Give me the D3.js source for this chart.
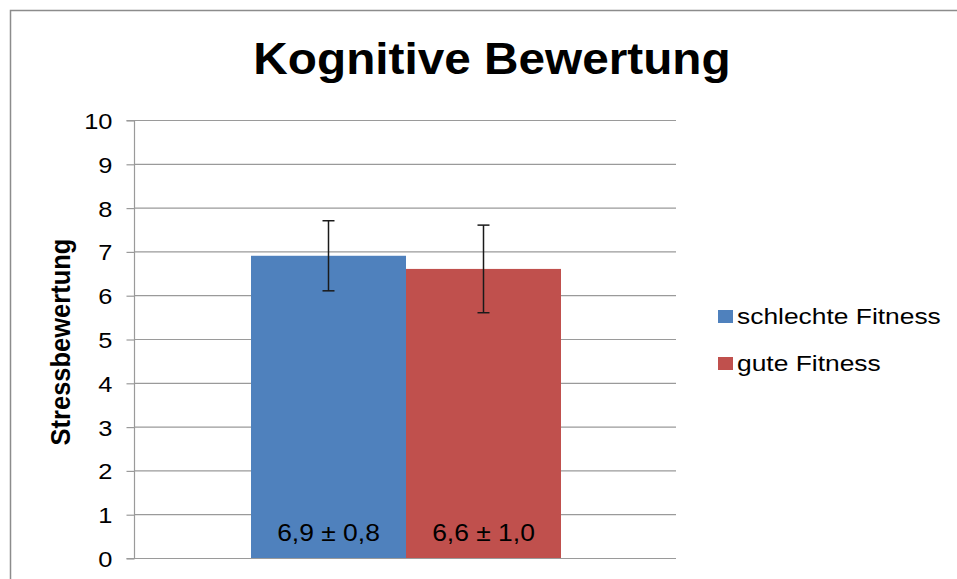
<!DOCTYPE html>
<html>
<head>
<meta charset="utf-8">
<script src="https://cdn.jsdelivr.net/npm/d3@7"></script>
<style>
  html, body { margin: 0; padding: 0; background: #fff; }
  svg { display: block; font-family: "Liberation Sans", Arial, sans-serif; }
</style>
</head>
<body>
<svg id="chart" width="957" height="579"></svg>
<script>
// Chart data
const seriesNames = ["schlechte Fitness", "gute Fitness"];
const seriesMeans = [6.9, 6.6];
const seriesSD = [0.8, 1.0];
const seriesLabels = ["6,9 ± 0,8", "6,6 ± 1,0"];
const seriesColors = ["#4f81bd", "#c0504d"];
const yTicks = [0, 1, 2, 3, 4, 5, 6, 7, 8, 9, 10];

const svg = d3.select("#chart");

// text drawn at (x, y) with a slightly wider glyph shape
function wideText(parent, x, y, sx, str) {
  return parent.append("text")
    .attr("transform", `translate(${x},${y}) scale(${sx},1)`)
    .attr("fill", "#000")
    .text(str);
}

// outer chart frame
svg.append("rect")
  .attr("x", 10.5).attr("y", 10.5)
  .attr("width", 980).attr("height", 600)
  .attr("fill", "none").attr("stroke", "#8c8c8c").attr("stroke-width", 1.5);

const plot = { left: 134.5, right: 676, top: 120, bottom: 558 };

const y = d3.scaleLinear().domain([0, 10]).range([plot.bottom, plot.top]);
const x = d3.scaleBand().domain(seriesNames).range([251, 561]).paddingInner(0).paddingOuter(0);

// horizontal gridlines
svg.append("g").selectAll("line").data(yTicks).join("line")
  .attr("x1", plot.left).attr("x2", plot.right)
  .attr("y1", d => y(d) + 0.5).attr("y2", d => y(d) + 0.5)
  .attr("stroke", "#9a9a9a").attr("stroke-width", 1.2);

// y axis
const tickLen = 8;
const yAxis = d3.axisLeft(y).tickValues(yTicks).tickSize(tickLen).tickFormat(d3.format("d"));
const gy = svg.append("g").attr("transform", `translate(${plot.left},0.5)`).call(yAxis);
gy.select(".domain").attr("stroke", "#9a9a9a").attr("stroke-width", 1.2)
  .attr("d", `M-${tickLen},${plot.top}H0V${plot.bottom}H-${tickLen}`);
gy.selectAll(".tick line").attr("stroke", "#9a9a9a").attr("stroke-width", 1.2);
gy.selectAll(".tick text")
  .attr("x", null).attr("dy", null)
  .attr("transform", "translate(-22,8) scale(1.14,1)")
  .attr("font-size", 22.3).attr("fill", "#000")
  .attr("font-family", "Liberation Sans, Arial, sans-serif");

// bars
svg.append("g").selectAll("rect").data(seriesNames).join("rect")
  .attr("x", d => x(d)).attr("width", x.bandwidth())
  .attr("y", (d, i) => y(seriesMeans[i]))
  .attr("height", (d, i) => y(0) - y(seriesMeans[i]))
  .attr("fill", (d, i) => seriesColors[i]);

// error bars (mean ± SD)
const eb = svg.append("g").attr("stroke", "#1a1a1a").attr("stroke-width", 1.5);
seriesNames.forEach((d, i) => {
  const cx = x(d) + x.bandwidth() / 2;
  const hi = y(seriesMeans[i] + seriesSD[i]);
  const lo = y(seriesMeans[i] - seriesSD[i]);
  eb.append("line").attr("x1", cx).attr("x2", cx).attr("y1", hi).attr("y2", lo);
  eb.append("line").attr("x1", cx - 6).attr("x2", cx + 6).attr("y1", hi).attr("y2", hi);
  eb.append("line").attr("x1", cx - 6).attr("x2", cx + 6).attr("y1", lo).attr("y2", lo);
});

// value labels inside the bars
const vl = svg.append("g").attr("font-size", 24.5).attr("text-anchor", "middle");
seriesNames.forEach((d, i) => {
  wideText(vl, x(d) + x.bandwidth() / 2, 541, 1.08, seriesLabels[i]);
});

// title
wideText(svg, 492, 74, 1.085, "Kognitive Bewertung")
  .attr("text-anchor", "middle")
  .attr("font-size", 44).attr("font-weight", "bold");

// y axis title
svg.append("text")
  .attr("transform", "translate(70,342) scale(1.12,1) rotate(-90)")
  .attr("text-anchor", "middle")
  .attr("font-size", 25.5).attr("font-weight", "bold").attr("fill", "#000")
  .text("Stressbewertung");

// legend
const legend = svg.append("g").attr("font-size", 22);
seriesNames.forEach((d, i) => {
  const base = 324 + i * 47;
  legend.append("rect").attr("x", 718).attr("y", base - 14).attr("width", 15).attr("height", 13)
    .attr("fill", seriesColors[i]);
  wideText(legend, 737, base, 1.2, d);
});
</script>
</body>
</html>
